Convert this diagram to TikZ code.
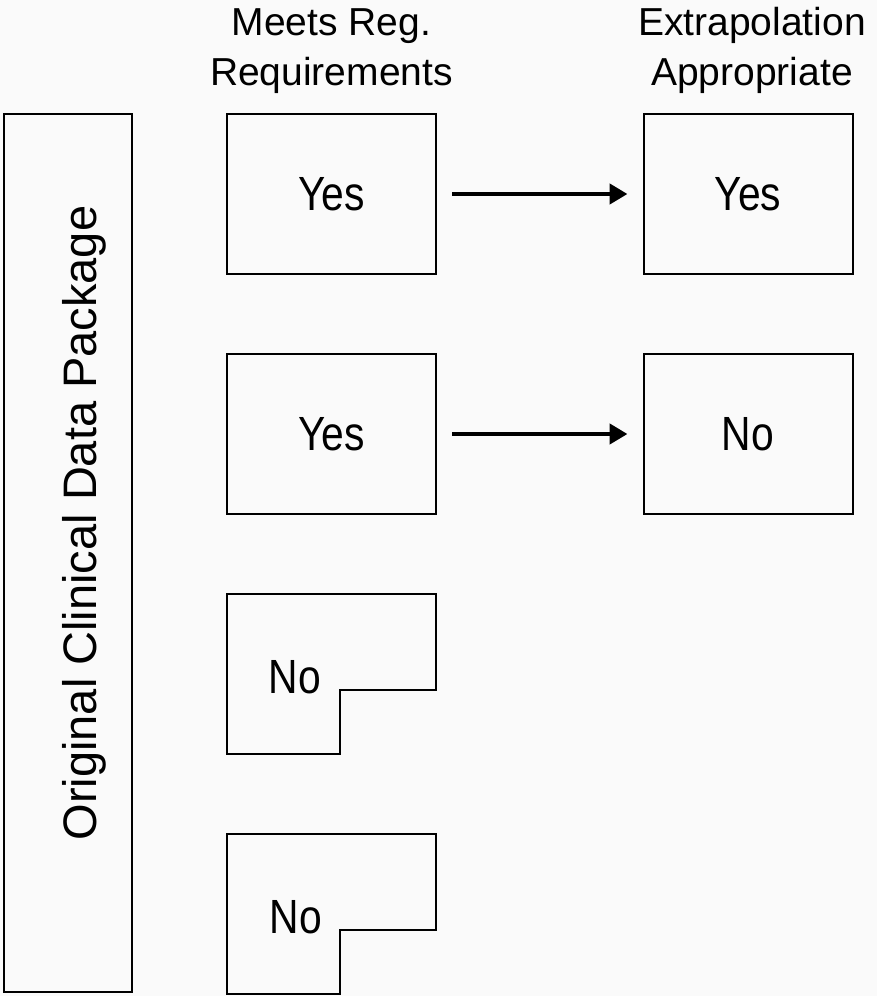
\documentclass[tikz,border=0pt]{standalone}
\usepackage{fontspec}
\setmainfont{Liberation Sans}
\newfontfamily\narrowfont[FakeStretch=0.85]{Liberation Sans}
\usetikzlibrary{arrows.meta}
\definecolor{bgc}{RGB}{250,250,250}
\begin{document}
\begin{tikzpicture}[x=1pt,y=-1pt,
  box/.style={draw=black,line width=2pt,minimum width=209pt,minimum height=160pt,inner sep=0pt,font=\narrowfont\fontsize{48}{58}\selectfont},
  lbl/.style={anchor=base,inner sep=0pt,font=\fontsize{39}{47}\selectfont},
  arr/.style={line width=4.5pt,-{Triangle[length=18pt,width=20pt]},shorten <=15pt,shorten >=15pt},
  lshape/.style={draw=black,line width=2pt,line join=miter},
  notxt/.style={anchor=base,inner sep=0pt,font=\narrowfont\fontsize{48}{58}\selectfont}]
\fill[bgc] (0,0) rectangle (877,996);
\node[draw,line width=2pt,minimum width=128pt,minimum height=878pt,inner sep=0pt] (pkg) at (68,553) {};
\node[rotate=90,anchor=base,inner sep=0pt,font=\fontsize{47}{56}\selectfont] (pkgtext) at (96,523) {Original Clinical Data Package};
\node[lbl] (h1a) at (331.5,35) {Meets Reg.};
\node[lbl] (h1b) at (331.5,85) {Requirements};
\node[lbl] (h2a) at (752,35) {Extrapolation};
\node[lbl] (h2b) at (752,85) {Appropriate};
\node[box] (m1) at (331.5,194) {Yes};
\node[box] (e1) at (748,194) {Yes};
\node[box] (m2) at (331.5,434) {Yes};
\node[box] (e2) at (748,434) {No};
\draw[lshape] (227,594) -- (436,594) -- (436,690) -- (340,690) -- (340,754) -- (227,754) -- cycle;
\node[notxt] (n3) at (295,693) {No};
\draw[lshape] (227,834) -- (436,834) -- (436,930) -- (340,930) -- (340,994) -- (227,994) -- cycle;
\node[notxt] (n4) at (296,933) {No};
\draw[arr] (m1.east) -- (e1.west);
\draw[arr] (m2.east) -- (e2.west);
\end{tikzpicture}
\end{document}
